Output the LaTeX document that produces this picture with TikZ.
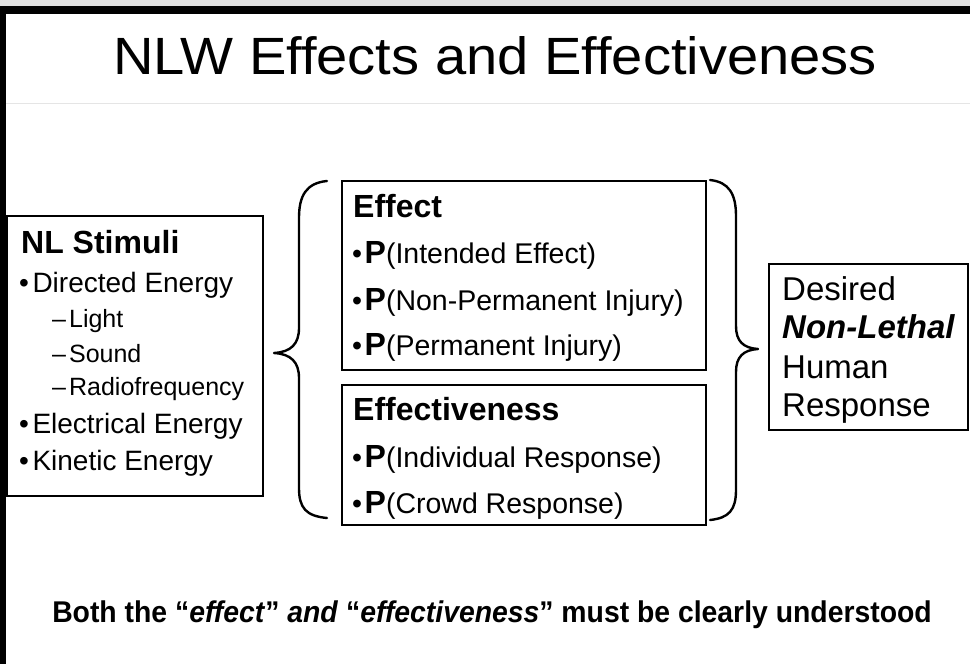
\documentclass[tikz,border=0pt]{standalone}
\usepackage{fontspec}
\setmainfont{Liberation Sans}
\newcommand{\fs}[1]{\fontsize{#1}{#1}\selectfont}
\newcommand{\PP}{\textbf{\fs{32}P}}
\newcommand{\bul}{•\hspace{3.5pt}}
\newcommand{\subd}{–\hspace{3pt}}
\begin{document}
\begin{tikzpicture}[x=1pt,y=-1pt,
  box/.style={draw, line width=1.6pt, inner sep=0pt},
  bracepath/.style={line width=2.4pt, line cap=round, line join=round},
  txt/.style={anchor=base west, inner sep=0pt}]
\useasboundingbox (0,0) rectangle (970,664);
\fill[white] (0,0) rectangle (970,664);
\fill[black!12] (0,0) rectangle (970,6);
\fill[black] (0,6) rectangle (970,14);
\fill[black] (0,6) rectangle (6,664);
\draw[black!10, line width=1pt] (6,103) -- (970,103);

% title
\node[anchor=base, inner sep=0pt] (title) at (495,74) {\resizebox{764pt}{38pt}{\fs{50}NLW Effects and Effectiveness}};

% boxes
\node[box, minimum width=256pt, minimum height=280pt, anchor=north west] (stim) at (6,215) {};
\node[box, minimum width=364pt, minimum height=189pt, anchor=north west] (effect) at (341,180) {};
\node[box, minimum width=364pt, minimum height=140pt, anchor=north west] (effness) at (341,384) {};
\node[box, minimum width=199pt, minimum height=166pt, anchor=north west] (resp) at (768,263) {};

% left box text
\node[txt] (s0) at (21,253) {\fs{32}\textbf{NL Stimuli}};
\node[txt] (s1) at (19,292) {\fs{28}\bul Directed Energy};
\node[txt] (s2) at (52,327) {\fs{25}\subd Light};
\node[txt] (s3) at (52,362) {\fs{25}\subd Sound};
\node[txt] (s4) at (52,395) {\fs{25}\subd Radiofrequency};
\node[txt] (s5) at (19,433) {\fs{28}\bul Electrical Energy};
\node[txt] (s6) at (19,470) {\fs{28}\bul Kinetic Energy};

% effect box text
\node[txt] (e0) at (353,217) {\fs{32}\textbf{Effect}};
\node[txt] (e1) at (352,263) {\fs{28.5}•\hspace{2.5pt}\PP(Intended Effect)};
\node[txt] (e2) at (352,310) {\fs{28.5}•\hspace{2.5pt}\PP(Non-Permanent Injury)};
\node[txt] (e3) at (352,355) {\fs{28.5}•\hspace{2.5pt}\PP(Permanent Injury)};
\node[txt] (f0) at (353,420) {\fs{32}\textbf{Effectiveness}};
\node[txt] (f1) at (352,467) {\fs{28.5}•\hspace{2.5pt}\PP(Individual Response)};
\node[txt] (f2) at (352,513) {\fs{28.5}•\hspace{2.5pt}\PP(Crowd Response)};

% response box text
\node[txt] (r1) at (782,300) {\fs{33}Desired};
\node[txt] (r2) at (782,338) {\fs{33}\textbf{\textit{Non-Lethal}}};
\node[txt] (r3) at (782,378) {\fs{33}Human};
\node[txt] (r4) at (782,416) {\fs{33}Response};

% braces
\draw[bracepath] (327,181) .. controls (306,183) and (299,196) .. (299,218)
  -- (299,328) .. controls (299,344) and (291,352) .. (274,353)
  .. controls (291,354) and (299,362) .. (299,378)
  -- (299,488) .. controls (299,508) and (306,516) .. (327,518);
\draw[bracepath] (710,180) .. controls (729,182) and (736,194) .. (736,216)
  -- (736,326) .. controls (736,341) and (743,348) .. (758,349)
  .. controls (743,350) and (736,357) .. (736,372)
  -- (736,490) .. controls (736,510) and (729,518) .. (710,520);

% bottom line
\node[anchor=base, inner sep=0pt] (note) at (492,622) {\scalebox{0.945}[1]{\fs{30}\textbf{Both the “\textit{effect}” \textit{and} “\textit{effectiveness}” must be clearly understood}}};
\end{tikzpicture}
\end{document}
